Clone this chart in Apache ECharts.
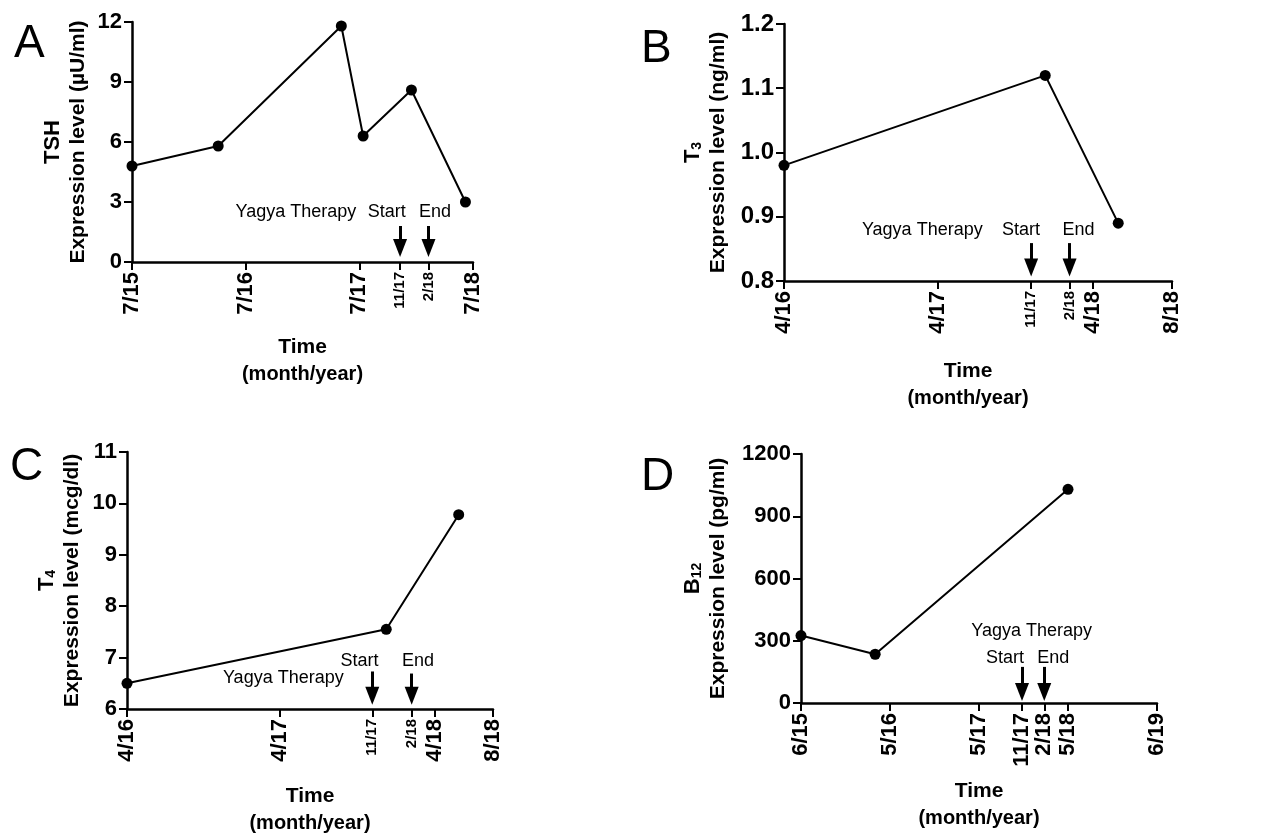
<!DOCTYPE html>
<html>
<head>
<meta charset="utf-8">
<script src="https://cdn.jsdelivr.net/npm/echarts@6/dist/echarts.min.js"></script>
<style>
html,body{margin:0;padding:0;background:#fff;}
#chart{width:1274px;height:839px;}
</style>
</head>
<body>
<div id="chart"></div>
<script>
// ---------- DATA ----------
// Panel A: TSH (x = months since 7/15)
const aMonths = [0, 9.1, 22.1, 24.4, 29.5, 35.2];
const aTSH = [4.8, 5.8, 11.8, 6.3, 8.6, 3.0];
const aTickPos = [0, 12, 24, 28.3, 31.3, 36];
const aTickLabels = ['7/15', '7/16', '7/17', '11/17', '2/18', '7/18'];

// Panel B: T3 (x = months since 4/16)
const bMonths = [0, 20.4, 26.1];
const bT3 = [0.98, 1.12, 0.89];
const bTickPos = [0, 12, 19.3, 22.3, 24.1, 30.3];
const bTickLabels = ['4/16', '4/17', '11/17', '2/18', '4/18', '8/18'];

// Panel C: T4 (x = months since 4/16)
const cMonths = [0, 20.4, 26.1];
const cT4 = [6.5, 7.55, 9.78];
const cTickPos = [0, 12, 19.3, 22.4, 24.2, 28.8];
const cTickLabels = ['4/16', '4/17', '11/17', '2/18', '4/18', '8/18'];

// Panel D: B12 (x = months since 6/15)
const dMonths = [0, 10.0, 36];
const dB12 = [325, 235, 1030];
const dTickPos = [0, 12, 24, 29.8, 32.8, 36, 48];
const dTickLabels = ['6/15', '5/16', '5/17', '11/17', '2/18', '5/18', '6/19'];

const therapyText = 'Yagya Therapy';
const startText = 'Start';
const endText = 'End';

// ---------- BUILD ----------
const FONT = "'Liberation Sans', Arial, Helvetica, sans-serif";

const panels = [
  {
    letter: 'A', letterPos: [14, 21],
    grid: {left: 132, top: 22, width: 341, height: 240},
    x: aMonths, y: aTSH, xmax: 36, ticks: aTickPos, labels: aTickLabels, small: ['11/17', '2/18'],
    ymin: 0, ymax: 12, yint: 3, ydec: 0,
    yname: '{t|TSH}\n{e|Expression level (\u00b5U/ml)}', ynameGap: 40, xnameGap: 72, xnamePad: 0,
    arrows: [{at: '11/17', y0: 1.8, y1: 0.7}, {at: '2/18', y0: 1.8, y1: 0.7}],
    texts: [[therapyText, 17.3, 2.5], [startText, 26.9, 2.5], [endText, 32.0, 2.5]]
  },
  {
    letter: 'B', letterPos: [641, 26],
    grid: {left: 784, top: 24, width: 388, height: 257},
    x: bMonths, y: bT3, xmax: 30.3, ticks: bTickPos, labels: bTickLabels, small: ['11/17', '2/18'],
    ymin: 0.8, ymax: 1.2, yint: 0.1, ydec: 1,
    yname: '{t|T}{sub|3}\n{e|Expression level (ng/ml)}', ynameGap: 52, xnameGap: 77, xnamePad: 20,
    arrows: [{at: '11/17', y0: 0.859, y1: 0.821}, {at: '2/18', y0: 0.859, y1: 0.821}],
    texts: [[therapyText, 10.8, 0.879], [startText, 18.5, 0.879], [endText, 23.0, 0.879]]
  },
  {
    letter: 'C', letterPos: [10, 444],
    grid: {left: 127, top: 452, width: 366, height: 257},
    x: cMonths, y: cT4, xmax: 28.8, ticks: cTickPos, labels: cTickLabels, small: ['11/17', '2/18'],
    ymin: 6, ymax: 11, yint: 1, ydec: 0,
    yname: '{t|T}{sub|4}\n{e|Expression level (mcg/dl)}', ynameGap: 41, xnameGap: 74, xnamePad: 0,
    arrows: [{at: '11/17', y0: 6.73, y1: 6.26}, {at: '2/18', y0: 6.69, y1: 6.26}],
    texts: [[therapyText, 12.3, 6.6], [startText, 18.3, 6.94], [endText, 22.9, 6.94]]
  },
  {
    letter: 'D', letterPos: [641, 454],
    grid: {left: 801, top: 454, width: 356, height: 249},
    x: dMonths, y: dB12, xmax: 48, ticks: dTickPos, labels: dTickLabels, small: [],
    ymin: 0, ymax: 1200, yint: 300, ydec: 0,
    yname: '{t|B}{sub|12}\n{e|Expression level (pg/ml)}', ynameGap: 69, xnameGap: 75, xnamePad: 0,
    arrows: [{at: '11/17', y0: 174, y1: 53}, {at: '2/18', y0: 174, y1: 53}],
    texts: [[therapyText, 31.1, 347], [startText, 27.5, 217], [endText, 34.0, 217]]
  }
];

const grids = [], xAxes = [], yAxes = [], series = [], graphics = [];

panels.forEach((p, i) => {
  grids.push(Object.assign({containLabel: false, outerBoundsMode: 'none'}, p.grid));

  xAxes.push({
    gridIndex: i, type: 'value', min: 0, max: p.xmax,
    splitLine: {show: false},
    axisLine: {show: true, onZero: false, lineStyle: {color: '#000', width: 2.5}},
    axisTick: {show: true, inside: false, length: 8, customValues: p.ticks, lineStyle: {color: '#000', width: 2}},
    axisLabel: {
      show: true, rotate: 90, margin: 10, customValues: p.ticks,
      formatter: function (v) {
        let idx = 0, best = Infinity;
        p.ticks.forEach((t, k) => { const d = Math.abs(t - v); if (d < best) { best = d; idx = k; } });
        const lab = p.labels[idx];
        return p.small.indexOf(lab) >= 0 ? '{s|' + lab + '}' : '{b|' + lab + '}';
      },
      rich: {
        b: {fontFamily: FONT, fontWeight: 'bold', fontSize: 22, color: '#000'},
        s: {fontFamily: FONT, fontWeight: 'bold', fontSize: 15, color: '#000'}
      }
    },
    name: '{a|Time}\n{c|(month/year)}',
    nameLocation: 'middle', nameGap: p.xnameGap,
    nameTextStyle: {
      padding: [0, p.xnamePad, 0, 0],
      rich: {
        a: {fontFamily: FONT, fontWeight: 'bold', fontSize: 21, lineHeight: 27, color: '#000'},
        c: {fontFamily: FONT, fontWeight: 'bold', fontSize: 20, lineHeight: 27, color: '#000'}
      }
    }
  });

  yAxes.push({
    gridIndex: i, type: 'value', min: p.ymin, max: p.ymax, interval: p.yint,
    splitLine: {show: false},
    axisLine: {show: true, onZero: false, lineStyle: {color: '#000', width: 2.5}},
    axisTick: {show: true, inside: false, length: 8, lineStyle: {color: '#000', width: 2}},
    axisLabel: {
      margin: 10, color: '#000', fontFamily: FONT, fontWeight: 'bold', fontSize: i === 1 ? 24 : 22,
      formatter: v => Number(v).toFixed(p.ydec)
    },
    name: p.yname, nameLocation: 'middle', nameRotate: 90, nameGap: p.ynameGap,
    nameTextStyle: {
      rich: {
        t: {fontFamily: FONT, fontWeight: 'bold', fontSize: 22, lineHeight: 30, color: '#000', verticalAlign: 'bottom'},
        sub: {fontFamily: FONT, fontWeight: 'bold', fontSize: 14, lineHeight: 14, color: '#000', verticalAlign: 'bottom'},
        e: {fontFamily: FONT, fontWeight: 'bold', fontSize: 21, lineHeight: 28, color: '#000'}
      }
    }
  });

  const arrowData = p.arrows.map(a => {
    const xv = p.ticks[p.labels.indexOf(a.at)];
    return [
      {coord: [xv, a.y0], symbol: 'none'},
      {coord: [xv, a.y1], symbol: 'triangle', symbolSize: [14, 18]}
    ];
  });

  const textData = p.texts.map(t => ({name: t[0], coord: [t[1], t[2]]}));

  series.push({
    type: 'line', xAxisIndex: i, yAxisIndex: i,
    data: p.x.map((xv, k) => [xv, p.y[k]]),
    symbol: 'circle', symbolSize: 11, showSymbol: true,
    lineStyle: {color: '#000', width: 2},
    itemStyle: {color: '#000'},
    animation: false, silent: true,
    clip: false,
    markLine: {
      silent: true, animation: false,
      symbol: ['none', 'triangle'],
      lineStyle: {color: '#000', width: 3, type: 'solid'},
      itemStyle: {color: '#000'},
      label: {show: false},
      emphasis: {disabled: true},
      data: arrowData
    },
    markPoint: {
      silent: true, animation: false,
      symbol: 'rect', symbolSize: 1,
      itemStyle: {color: 'rgba(0,0,0,0)'},
      label: {show: true, position: 'inside', formatter: '{b}', color: '#000', fontFamily: FONT, fontSize: 18, fontWeight: 'normal'},
      emphasis: {disabled: true},
      data: textData
    }
  });

  graphics.push({
    type: 'text', left: p.letterPos[0], top: p.letterPos[1],
    style: {text: p.letter, fontFamily: "'Liberation Sans Narrow', 'Liberation Sans', Arial, sans-serif", fontSize: 46, fill: '#000'}
  });
});

const chart = echarts.init(document.getElementById('chart'), null, {renderer: 'canvas'});
chart.setOption({
  backgroundColor: '#fff',
  animation: false,
  grid: grids,
  xAxis: xAxes,
  yAxis: yAxes,
  series: series,
  graphic: graphics
});
</script>
</body>
</html>
